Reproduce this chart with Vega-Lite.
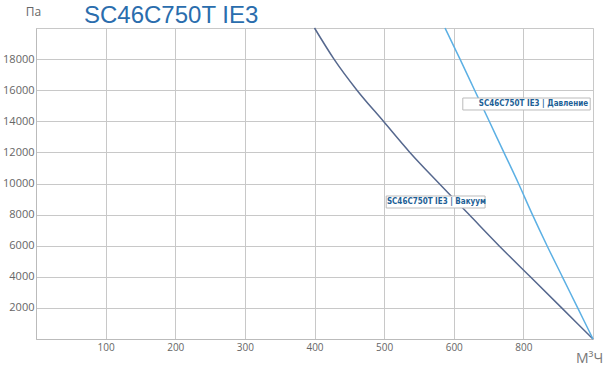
{
  "$schema": "https://vega.github.io/schema/vega-lite/v6.json",
  "width": 557,
  "height": 311,
  "autosize": {"type": "none"},
  "padding": {"left": 36, "top": 28, "right": 17, "bottom": 27},
  "background": "white",
  "config": {"view": {"stroke": "#c8c8c8", "strokeWidth": 1}, "font": "Open Sans"},
  "title": {
    "text": "SC46C750T IE3",
    "anchor": "start",
    "frame": "group",
    "dx": 48,
    "dy": 43,
    "offset": 1,
    "fontSize": 24,
    "font": "Liberation Sans",
    "fontWeight": "normal",
    "color": "#2a6dad",
    "baseline": "alphabetic"
  },
  "datasets": {
    "curves": [
      {"q": 400, "p": 20000, "series": "Вакуум"},
      {"q": 428, "p": 18000, "series": "Вакуум"},
      {"q": 461, "p": 16000, "series": "Вакуум"},
      {"q": 499, "p": 14000, "series": "Вакуум"},
      {"q": 537, "p": 12000, "series": "Вакуум"},
      {"q": 579, "p": 10000, "series": "Вакуум"},
      {"q": 622, "p": 8000, "series": "Вакуум"},
      {"q": 665, "p": 6000, "series": "Вакуум"},
      {"q": 710, "p": 4000, "series": "Вакуум"},
      {"q": 755, "p": 2000, "series": "Вакуум"},
      {"q": 800, "p": 0, "series": "Вакуум"},
      {"q": 587.5, "p": 20000, "series": "Давление"},
      {"q": 609, "p": 18000, "series": "Давление"},
      {"q": 630, "p": 16000, "series": "Давление"},
      {"q": 651, "p": 14000, "series": "Давление"},
      {"q": 672, "p": 12000, "series": "Давление"},
      {"q": 693, "p": 10000, "series": "Давление"},
      {"q": 713, "p": 8000, "series": "Давление"},
      {"q": 734, "p": 6000, "series": "Давление"},
      {"q": 756, "p": 4000, "series": "Давление"},
      {"q": 778, "p": 2000, "series": "Давление"},
      {"q": 800, "p": 0, "series": "Давление"}
    ],
    "boxes": [
      {"q1": 503, "q2": 645, "p1": 9196, "p2": 8424},
      {"q1": 613, "q2": 796, "p1": 15498, "p2": 14727}
    ],
    "leftLabels": [
      {"tq": 504, "tp": 8810, "text": "SC46C750T IE3 | Вакуум"}
    ],
    "rightLabels": [
      {"tq": 793, "tp": 15113, "text": "SC46C750T IE3  | Давление"}
    ]
  },
  "encoding": {
    "x": {
      "type": "quantitative",
      "scale": {"domain": [0, 800], "nice": false, "zero": false},
      "axis": {
        "title": "М³Ч",
        "titleFont": "Open Sans",
        "titleFontSize": 14,
        "titleFontWeight": "normal",
        "titleColor": "#777777",
        "titleAngle": 0,
        "titleAlign": "center",
        "titleBaseline": "alphabetic",
        "titleX": 553,
        "titleY": 23,
        "values": [0, 100, 200, 300, 400, 500, 600, 700, 800],
        "labelExpr": "datum.value == 700 ? '800' : (datum.value == 800 || datum.value == 0) ? '' : datum.label",
        "labelFontSize": 10,
        "labelColor": "#666666",
        "labelPadding": 3,
        "ticks": false,
        "domainColor": "#bbbbbb",
        "gridColor": "#c8c8c8",
        "labelFlush": false
      }
    },
    "y": {
      "type": "quantitative",
      "scale": {"domain": [0, 20000], "nice": false},
      "axis": {
        "title": "Па",
        "titleFont": "Open Sans",
        "titleFontSize": 12,
        "titleFontWeight": "normal",
        "titleColor": "#666666",
        "titleAngle": 0,
        "titleAlign": "center",
        "titleBaseline": "alphabetic",
        "titleX": -3,
        "titleY": -13,
        "values": [2000, 4000, 6000, 8000, 10000, 12000, 14000, 16000, 18000],
        "format": "d",
        "labelFontSize": 11,
        "labelColor": "#666666",
        "labelPadding": 2,
        "ticks": false,
        "domainColor": "#bbbbbb",
        "gridColor": "#c8c8c8"
      }
    }
  },
  "layer": [
    {
      "data": {"name": "curves"},
      "mark": {"type": "line", "strokeWidth": 1.5, "interpolate": "monotone"},
      "encoding": {
        "x": {"field": "q", "type": "quantitative"},
        "y": {"field": "p", "type": "quantitative"},
        "color": {
          "field": "series",
          "type": "nominal",
          "scale": {"domain": ["Вакуум", "Давление"], "range": ["#56688e", "#5cb0e4"]},
          "legend": null
        }
      }
    },
    {
      "data": {"name": "boxes"},
      "mark": {"type": "rect", "fill": "white", "stroke": "#bbbbbb", "strokeWidth": 1},
      "encoding": {
        "x": {"field": "q1", "type": "quantitative"},
        "x2": {"field": "q2"},
        "y": {"field": "p1", "type": "quantitative"},
        "y2": {"field": "p2"}
      }
    },
    {
      "data": {"name": "leftLabels"},
      "mark": {"type": "text", "font": "DejaVu Sans Condensed, Liberation Sans", "fontWeight": "bold", "fontSize": 8, "color": "#1d5f96", "baseline": "middle", "align": "left"},
      "encoding": {
        "x": {"field": "tq", "type": "quantitative"},
        "y": {"field": "tp", "type": "quantitative"},
        "text": {"field": "text"}
      }
    },
    {
      "data": {"name": "rightLabels"},
      "mark": {"type": "text", "font": "DejaVu Sans Condensed, Liberation Sans", "fontWeight": "bold", "fontSize": 8, "color": "#1d5f96", "baseline": "middle", "align": "right"},
      "encoding": {
        "x": {"field": "tq", "type": "quantitative"},
        "y": {"field": "tp", "type": "quantitative"},
        "text": {"field": "text"}
      }
    }
  ]
}
